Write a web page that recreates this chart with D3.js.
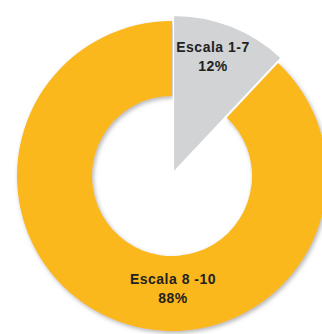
<!DOCTYPE html>
<html>
<head>
<meta charset="utf-8">
<script src="https://cdn.jsdelivr.net/npm/d3@7"></script>
<style>
  html, body { margin: 0; padding: 0; background: #fff; }
  svg { display: block; }
  text { font-family: "Liberation Sans", Arial, sans-serif; font-weight: bold; fill: #222; }
</style>
</head>
<body>
<svg id="chart" width="322" height="334"></svg>
<script>
// Share of answers by score range
const categories = ["Escala 1-7", "Escala 8 -10"];
const values = [12, 88];
const valueLabels = ["12%", "88%"];
const colors = ["#D1D3D4", "#FBB81B"];

const W = 322, H = 334;
const cx = 172, cy = 176;
const outerR = 155, innerR = 80;
const explode = 4;

const svg = d3.select("#chart");

const defs = svg.append("defs");
const shadow = defs.append("filter").attr("id", "shadow")
  .attr("x", "-20%").attr("y", "-20%").attr("width", "140%").attr("height", "140%");
shadow.append("feDropShadow")
  .attr("dx", 1.5).attr("dy", 2).attr("stdDeviation", 2)
  .attr("flood-color", "#777").attr("flood-opacity", 0.55);

const pie = d3.pie().sort(null).value(d => d)
  .startAngle(0).endAngle(2 * Math.PI);
const slices = pie(values);

const g = svg.append("g").attr("transform", `translate(${cx},${cy})`);

const ringArc = d3.arc().innerRadius(innerR).outerRadius(outerR);
const wedgeArc = d3.arc().innerRadius(0).outerRadius(outerR + 2);

// the large share as a ring
g.append("path")
  .attr("d", ringArc(slices[1]))
  .attr("fill", colors[1])
  .attr("filter", "url(#shadow)");

// the small share as a full wedge pulled out along its bisector
const mid = (slices[0].startAngle + slices[0].endAngle) / 2;
g.append("path")
  .attr("d", wedgeArc(slices[0]))
  .attr("transform", `translate(${Math.sin(mid) * explode},${-Math.cos(mid) * explode})`)
  .attr("fill", colors[0])
  .attr("stroke", "#fff")
  .attr("stroke-width", 1.2)
  .attr("stroke-linejoin", "round");

// labels
const labelPos = [[213, 52], [173, 284]];
categories.forEach((c, i) => {
  const t = svg.append("text")
    .attr("text-anchor", "middle")
    .attr("font-size", 14)
    .attr("letter-spacing", 0.5)
    .attr("x", labelPos[i][0]).attr("y", labelPos[i][1]);
  t.append("tspan").attr("x", labelPos[i][0]).text(c);
  t.append("tspan").attr("x", labelPos[i][0]).attr("dy", 19).text(valueLabels[i]);
});
</script>
</body>
</html>
